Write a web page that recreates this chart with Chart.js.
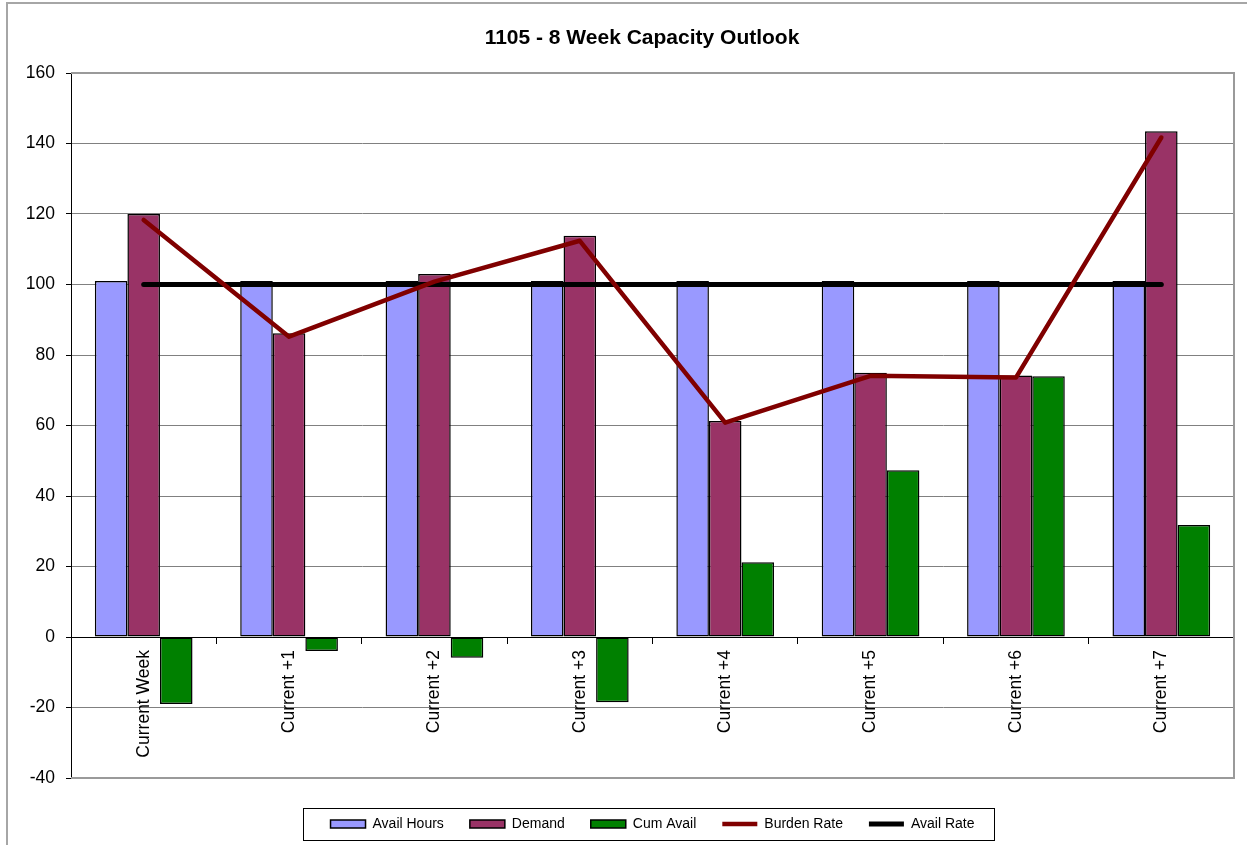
<!DOCTYPE html>
<html>
<head>
<meta charset="utf-8">
<script src="https://cdn.jsdelivr.net/npm/chart.js@4.4.0/dist/chart.umd.min.js"></script>
<style>
html,body{margin:0;padding:0;background:#ffffff;}
#wrap{width:1247px;height:845px;position:relative;overflow:hidden;}
canvas{display:block;}
</style>
</head>
<body>
<div id="wrap"><canvas id="c" width="1247" height="845"></canvas></div>
<script>
// ---- data ----
const categories = ['Current Week', 'Current +1', 'Current +2', 'Current +3', 'Current +4', 'Current +5', 'Current +6', 'Current +7'];
const availHours = [101, 101, 101, 101, 101, 101, 101, 101];
const demand     = [120, 86.2, 103, 113.8, 61.3, 75, 74.2, 143.5];
const cumAvail   = [-19, -4, -5.9, -18.5, 21.2, 47.3, 74, 31.8];
const burdenRate = [118.3, 85.2, 100.8, 112.4, 60.8, 74.1, 73.6, 141.7];
const availRate  = [100, 100, 100, 100, 100, 100, 100, 100];
const yMin = -40, yMax = 160, yStep = 20;
const chartTitle = '1105 - 8 Week Capacity Outlook';

Chart.defaults.font.family = '"Liberation Sans", Arial, sans-serif';
Chart.defaults.color = '#000000';

const framePlugin = {
  id: 'frame',
  beforeDraw(chart) {
    const ctx = chart.ctx;
    ctx.save();
    ctx.fillStyle = '#ffffff';
    ctx.fillRect(0, 0, chart.width, chart.height);
    ctx.strokeStyle = '#a6a6a6';
    ctx.lineWidth = 2;
    ctx.strokeRect(7, 3, chart.width + 20, chart.height + 20);
    ctx.restore();
  },
  beforeDatasetsDraw(chart) {
    const a = chart.chartArea, ctx = chart.ctx;
    ctx.save();
    ctx.strokeStyle = '#9a9a9a';
    ctx.lineWidth = 2;
    ctx.beginPath();
    ctx.moveTo(a.left, a.top);
    ctx.lineTo(a.right, a.top);
    ctx.lineTo(a.right, a.bottom);
    ctx.lineTo(a.left, a.bottom);
    ctx.stroke();
    ctx.restore();
  },
  afterDraw(chart) {
    const lg = chart.legend;
    if (!lg || !lg.legendHitBoxes || !lg.legendHitBoxes.length) return;
    const hb = lg.legendHitBoxes;
    const first = hb[0], last = hb[hb.length - 1];
    const cy = first.top + first.height / 2;
    const ctx = chart.ctx;
    ctx.save();
    ctx.strokeStyle = '#000000';
    ctx.lineWidth = 1;
    const l = Math.round(first.left - 28) + 0.5;
    const r = Math.round(last.left + last.width + 20) + 0.5;
    ctx.strokeRect(l, Math.round(cy - 16) + 0.5, r - l, 32);
    ctx.restore();
  }
};

new Chart(document.getElementById('c'), {
  type: 'bar',
  data: {
    labels: categories,
    datasets: [
      { type: 'bar', label: 'Avail Hours', data: availHours, backgroundColor: '#9999FF', borderColor: '#000000', borderWidth: 1.5, borderSkipped: false, pointStyle: 'rect', order: 2 },
      { type: 'bar', label: 'Demand', data: demand, backgroundColor: '#993366', borderColor: '#000000', borderWidth: 1.5, borderSkipped: false, pointStyle: 'rect', order: 2 },
      { type: 'bar', label: 'Cum Avail', data: cumAvail, backgroundColor: '#008000', borderColor: '#000000', borderWidth: 1.5, borderSkipped: false, pointStyle: 'rect', order: 2 },
      { type: 'line', label: 'Burden Rate', data: burdenRate, borderColor: '#800000', backgroundColor: '#800000', borderWidth: 4.5, pointRadius: 0, pointStyle: 'line', borderCapStyle: 'round', borderJoinStyle: 'round', tension: 0, order: 0 },
      { type: 'line', label: 'Avail Rate', data: availRate, borderColor: '#000000', backgroundColor: '#000000', borderWidth: 5, pointRadius: 0, pointStyle: 'line', borderCapStyle: 'round', borderJoinStyle: 'round', tension: 0, order: 1 }
    ]
  },
  options: {
    responsive: false,
    devicePixelRatio: 1,
    animation: false,
    layout: { padding: { left: 10, right: -27, top: 10, bottom: 4 } },
    datasets: { bar: { categoryPercentage: 0.672, barPercentage: 1 } },
    plugins: {
      title: {
        display: true,
        text: chartTitle,
        color: '#000000',
        font: { size: 21, weight: 'bold' },
        padding: { top: 15.4, bottom: 22.4 }
      },
      legend: {
        display: true,
        position: 'bottom',
        fullSize: false,
        title: { display: true, text: '', padding: { top: 12, bottom: 0 }, font: { size: 1, lineHeight: 1 } },
        labels: {
          usePointStyle: true,
          pointStyleWidth: 35,
          boxHeight: 8,
          padding: 26,
          color: '#000000',
          font: { size: 14 },
          sort: (a, b) => a.datasetIndex - b.datasetIndex
        }
      },
      tooltip: { enabled: false }
    },
    scales: {
      x: {
        type: 'category',
        position: { y: 0 },
        offset: true,
        grid: { display: true, drawOnChartArea: false, drawTicks: true, tickLength: 6, tickColor: '#000000', offset: true },
        border: { display: true, color: '#000000', width: 1 },
        ticks: { autoSkip: false, minRotation: 90, maxRotation: 90, padding: 7, color: '#000000', font: { size: 17.5 } }
      },
      y: {
        min: yMin,
        max: yMax,
        grid: { color: '#808080', lineWidth: 1, tickLength: 5, tickColor: '#000000' },
        border: { display: true, color: '#000000', width: 1 },
        ticks: { stepSize: yStep, padding: 11, color: '#000000', font: { size: 17.5 } },
        afterFit(s) { s.width = 61; }
      },
      yRight: {
        type: 'linear',
        position: 'right',
        display: true,
        grid: { display: false, drawTicks: false },
        border: { display: false },
        ticks: { display: false },
        afterFit(s) { s.width = 40; }
      }
    }
  },
  plugins: [framePlugin]
});
</script>
</body>
</html>
